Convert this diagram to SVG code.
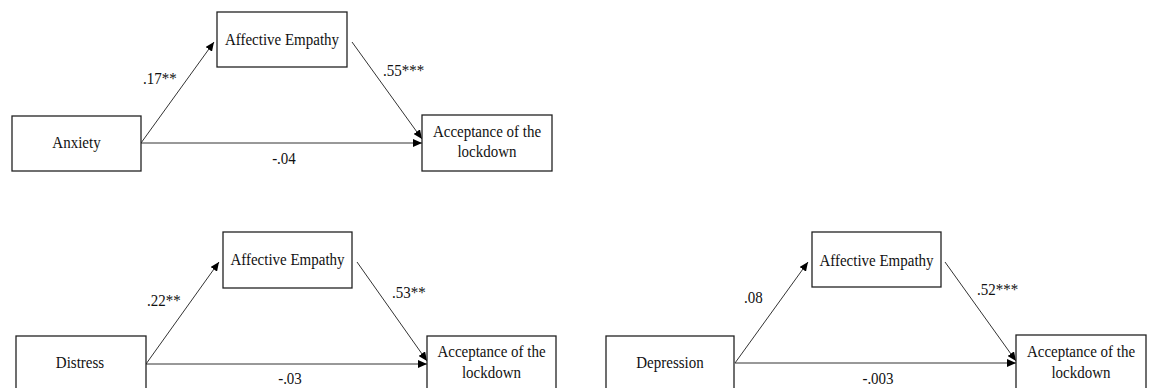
<svg xmlns="http://www.w3.org/2000/svg" width="1150" height="388" viewBox="0 0 1150 388">
<style>
.box{fill:#fff;stroke:#222;stroke-width:1.3}
.t,.l{font-family:"Liberation Serif","Times New Roman",serif;font-size:15px;fill:#111;transform-box:fill-box;transform-origin:center;transform:scaleY(1.1)}
.t{text-anchor:middle}
.c{stroke:#333;stroke-width:1;fill:none;marker-end:url(#ah)}
</style>
<defs>
<marker id="ah" markerUnits="userSpaceOnUse" markerWidth="10" markerHeight="8" refX="9" refY="4" orient="auto">
<path d="M0,0 L9,4 L0,8 z" fill="#000"/>
</marker>
</defs>
<rect width="1150" height="388" fill="#fff"/>
<g id="connectors">
<line class="c" x1="141" y1="143" x2="214" y2="42"/>
<line class="c" x1="352" y1="42" x2="422" y2="139"/>
<line class="c" x1="141" y1="143" x2="422" y2="143"/>
<line class="c" x1="146" y1="364" x2="219" y2="262"/>
<line class="c" x1="357" y1="262" x2="427" y2="361"/>
<line class="c" x1="146" y1="364" x2="427" y2="364"/>
<line class="c" x1="735" y1="363" x2="808" y2="262"/>
<line class="c" x1="945" y1="262" x2="1016" y2="361"/>
<line class="c" x1="735" y1="363" x2="1016" y2="363"/>
</g>
<g id="labels">
<text class="l" x="143" y="83">.17**</text>
<text class="l" x="383" y="75">.55***</text>
<text class="t" x="284" y="163">-.04</text>
<text class="l" x="147" y="305">.22**</text>
<text class="l" x="392" y="297">.53**</text>
<text class="t" x="290" y="383">-.03</text>
<text class="l" x="744" y="302">.08</text>
<text class="l" x="977" y="294">.52***</text>
<text class="t" x="878" y="383">-.003</text>
</g>
<g id="anxiety"><rect class="box" x="12" y="116" width="129" height="55"/><text class="t" x="76.5" y="148">Anxiety</text></g>
<g id="empathy1"><rect class="box" x="217" y="12" width="130" height="55"/><text class="t" x="282" y="45">Affective Empathy</text></g>
<g id="acceptance1"><rect class="box" x="422" y="115" width="130" height="56"/><text class="t" x="487" y="137">Acceptance of the</text><text class="t" x="487" y="156">lockdown</text></g>
<g id="distress"><rect class="box" x="16" y="336" width="130" height="55"/><text class="t" x="80" y="367">Distress</text></g>
<g id="empathy2"><rect class="box" x="223" y="232" width="129" height="56"/><text class="t" x="287.5" y="265">Affective Empathy</text></g>
<g id="acceptance2"><rect class="box" x="427" y="336" width="129" height="55"/><text class="t" x="491.5" y="357">Acceptance of the</text><text class="t" x="491.5" y="377">lockdown</text></g>
<g id="depression"><rect class="box" x="606" y="336" width="128" height="55"/><text class="t" x="670" y="368">Depression</text></g>
<g id="empathy3"><rect class="box" x="812" y="232" width="129" height="55"/><text class="t" x="876.5" y="266">Affective Empathy</text></g>
<g id="acceptance3"><rect class="box" x="1016" y="335" width="130" height="56"/><text class="t" x="1081" y="357">Acceptance of the</text><text class="t" x="1081" y="377">lockdown</text></g>
</svg>
